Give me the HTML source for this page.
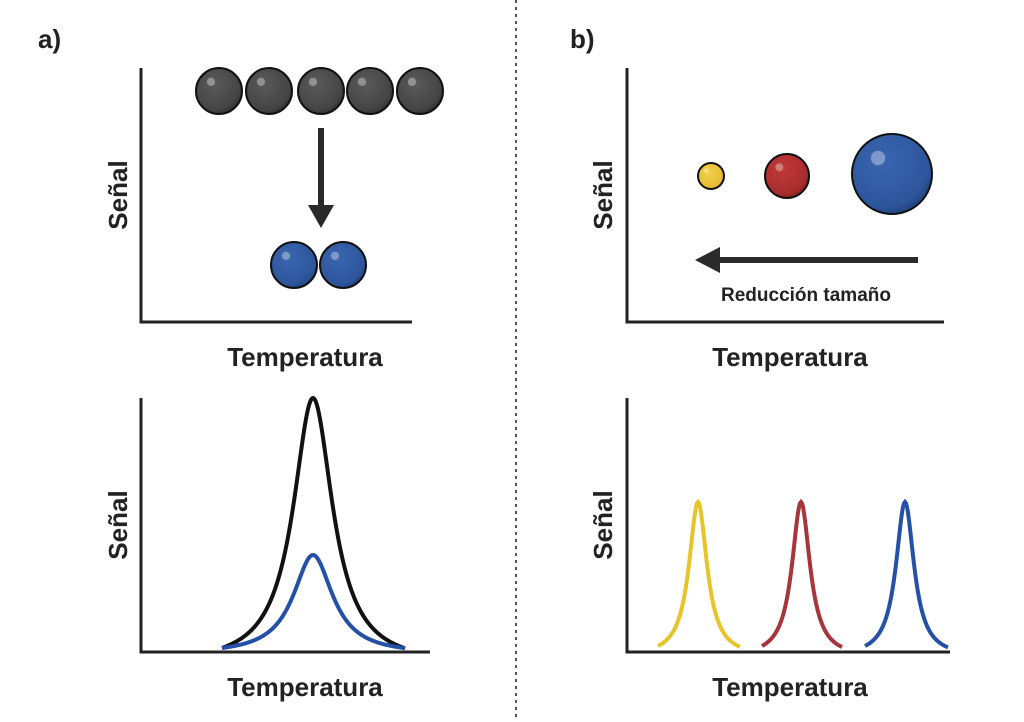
<!DOCTYPE html>
<html><head><meta charset="utf-8"><style>
body{margin:0;background:#fff}
svg text{font-family:"Liberation Sans",sans-serif;font-weight:bold;fill:#222}
</style></head><body>
<svg id="s" width="1024" height="717" viewBox="0 0 1024 717" xmlns="http://www.w3.org/2000/svg">
<defs>
<radialGradient id="gg" cx="0.4" cy="0.35" r="0.7"><stop offset="0" stop-color="#5a5a5a"/><stop offset="0.8" stop-color="#444"/><stop offset="1" stop-color="#2c2c2c"/></radialGradient>
<radialGradient id="gb" cx="0.4" cy="0.35" r="0.7"><stop offset="0" stop-color="#3a66b0"/><stop offset="0.8" stop-color="#2d559c"/><stop offset="1" stop-color="#1f3f78"/></radialGradient>
<radialGradient id="gr" cx="0.4" cy="0.35" r="0.7"><stop offset="0" stop-color="#c03a3a"/><stop offset="0.8" stop-color="#a82c2c"/><stop offset="1" stop-color="#7e1f1f"/></radialGradient>
<radialGradient id="gy" cx="0.4" cy="0.35" r="0.7"><stop offset="0" stop-color="#f2cf4a"/><stop offset="0.8" stop-color="#e6bd35"/><stop offset="1" stop-color="#c99e20"/></radialGradient>
</defs>
<line x1="516" y1="0" x2="516" y2="717" stroke="#555" stroke-width="2" stroke-dasharray="3,4"/>
<text x="38" y="48" font-size="26">a)</text>
<text x="570" y="48" font-size="26">b)</text>
<g stroke="#222" stroke-width="3" fill="none">
<polyline points="141,68 141,322 412,322"/>
<polyline points="627,68 627,322 944,322"/>
<polyline points="141,398 141,652 430,652"/>
<polyline points="627,398 627,652 950,652"/>
</g>
<text x="305" y="366" font-size="26" text-anchor="middle">Temperatura</text>
<text x="790" y="366" font-size="26" text-anchor="middle">Temperatura</text>
<text x="305" y="696" font-size="26" text-anchor="middle">Temperatura</text>
<text x="790" y="696" font-size="26" text-anchor="middle">Temperatura</text>
<text font-size="26" text-anchor="middle" transform="translate(127,195) rotate(-90)">Señal</text>
<text font-size="26" text-anchor="middle" transform="translate(127,525) rotate(-90)">Señal</text>
<text font-size="26" text-anchor="middle" transform="translate(612,195) rotate(-90)">Señal</text>
<text font-size="26" text-anchor="middle" transform="translate(612,525) rotate(-90)">Señal</text>
<g id="balls" stroke="#111" stroke-width="2"></g>
<line x1="321" y1="128" x2="321" y2="208" stroke="#2a2a2a" stroke-width="6"/>
<polygon points="308,205 334,205 321,228" fill="#2a2a2a"/>
<line x1="918" y1="260" x2="718" y2="260" stroke="#2a2a2a" stroke-width="6"/>
<polygon points="720,247 720,273 695,260" fill="#2a2a2a"/>
<text x="806" y="301" font-size="19" text-anchor="middle">Reducción tamaño</text>
<g id="curves" fill="none" stroke-width="4"></g>
</svg>
<script>
var NS="http://www.w3.org/2000/svg";
function el(p,t,a){var e=document.createElementNS(NS,t);for(var k in a)e.setAttribute(k,a[k]);p.appendChild(e);return e;}
var B=document.getElementById('balls');
function ball(x,y,r,g){el(B,'circle',{cx:x,cy:y,r:r,fill:'url(#'+g+')'});el(B,'circle',{cx:x-r*0.35,cy:y-r*0.4,r:r*0.18,fill:'rgba(255,255,255,0.35)',stroke:'none'});}
[219,269,321,370,420].forEach(function(x){ball(x,91,23,'gg');});
ball(294,265,23,'gb');ball(343,265,23,'gb');
ball(711,176,13,'gy');ball(787,176,22,'gr');ball(892,174,40,'gb');
var C=document.getElementById('curves');
function lor(c,x0,x1,base,top,w,col){var d='',h=base-top;for(var x=x0;x<=x1;x+=1){var y=base-h*(1/(1+Math.pow((x-c)/w,2))-1/(1+Math.pow((x0-c)/w,2)))/(1-1/(1+Math.pow((x0-c)/w,2)));d+=(d?'L':'M')+x+','+y.toFixed(2);}el(C,'path',{d:d,stroke:col});}
lor(313,222,405,648,398,24,'#111');
lor(313,222,405,648,555,24,'#2450a8');
lor(698,658,740,646,502,11,'#e8c42c');
lor(801,762,842,646,502,11,'#a8343c');
lor(905,865,948,646,502,11,'#2450a8');
</script>
</body></html>
